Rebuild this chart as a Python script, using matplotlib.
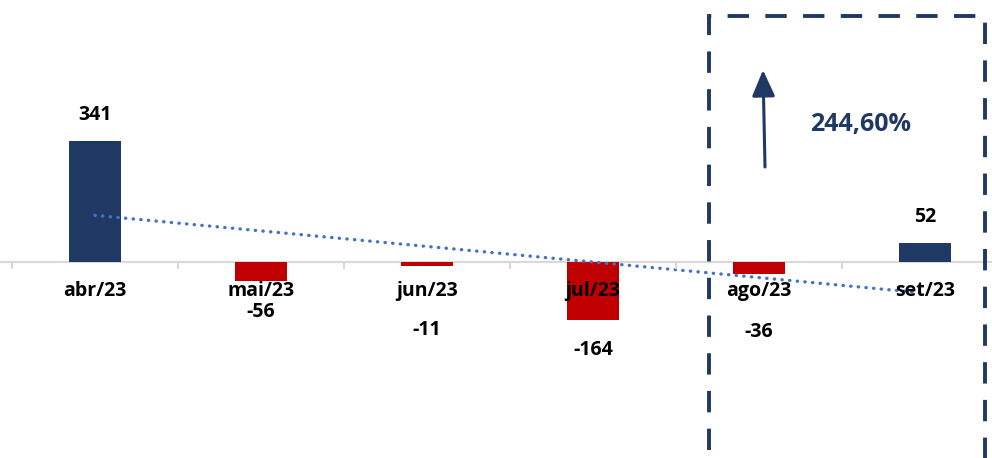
import matplotlib
matplotlib.use("Agg")
import matplotlib.pyplot as plt
from matplotlib.patches import Rectangle, FancyArrowPatch
import numpy as np

# data
months = ['abr/23', 'mai/23', 'jun/23', 'jul/23', 'ago/23', 'set/23']
values = [341, -56, -11, -164, -36, 52]
growth_label = '244,60%'

# label offsets (px from bar end), like the excel layout
label_offset = [26, 31, 64, 30, 58, 26]

navy = '#203864'
red = '#C00000'
trend_col = '#4472C4'

plt.rcParams['font.family'] = ['Open Sans', 'DejaVu Sans']

fig = plt.figure(figsize=(9.92, 4.58), dpi=100)
ax = fig.add_axes([0, 0, 1, 1])

x = np.arange(len(months))
colors = [navy if v >= 0 else red for v in values]
ax.bar(x, values, width=0.31, color=colors, zorder=2)

# linear trendline
k, b = np.polyfit(x, values, 1)
ax.plot(x, k * x + b, color=trend_col, lw=2.4, linestyle=(0, (0.1, 2.2)),
        dash_capstyle='round', zorder=3)

for xi, v, off in zip(x, values, label_offset):
    dy = off * 0.72 if v >= 0 else -off * 0.72
    ax.annotate(str(v), (xi, v), xytext=(0, dy), textcoords='offset points',
                ha='center', va='center', fontsize=14, fontweight='bold', color='black')

for s in ['top', 'right', 'left']:
    ax.spines[s].set_visible(False)
ax.spines['bottom'].set_position(('data', 0))
ax.spines['bottom'].set_color('#D9D9D9')
ax.spines['bottom'].set_linewidth(1.5)
ax.spines['bottom'].set_zorder(1)
ax.set_yticks([])
ax.set_xticks(x)
ax.set_xticklabels(months, fontsize=14, fontweight='bold')
ax.set_xticks(np.arange(-0.5, 6, 1), minor=True)
ax.tick_params(axis='x', which='major', length=0, pad=14)
ax.tick_params(axis='x', which='minor', length=5, width=1.5, color='#D9D9D9')
ax.xaxis.set_zorder(5)

ax.set_xlim(-0.572, 5.404)
ax.set_ylim(-554.5, 739)

# dashed highlight box around last two months
box = Rectangle((709 / 992, -0.2), (985 - 709) / 992, 1.2 - 16 / 458,
                transform=fig.transFigure, fill=False, edgecolor=navy, lw=2.8,
                linestyle=(0, (5.5, 4.2)), zorder=4)
fig.patches.append(box)

arrow = FancyArrowPatch((765 / 992, 1 - 167 / 458), (763 / 992, 1 - 70 / 458),
                        transform=fig.transFigure, arrowstyle='-|>,head_length=0.8,head_width=0.35',
                        mutation_scale=20, color=navy, lw=2.2, shrinkA=0, shrinkB=0)
fig.patches.append(arrow)
fig.text(861 / 992, 1 - 124 / 458, growth_label, ha='center', va='center',
         fontsize=18, fontweight='bold', color=navy)

fig.savefig('out.png', dpi=100)
